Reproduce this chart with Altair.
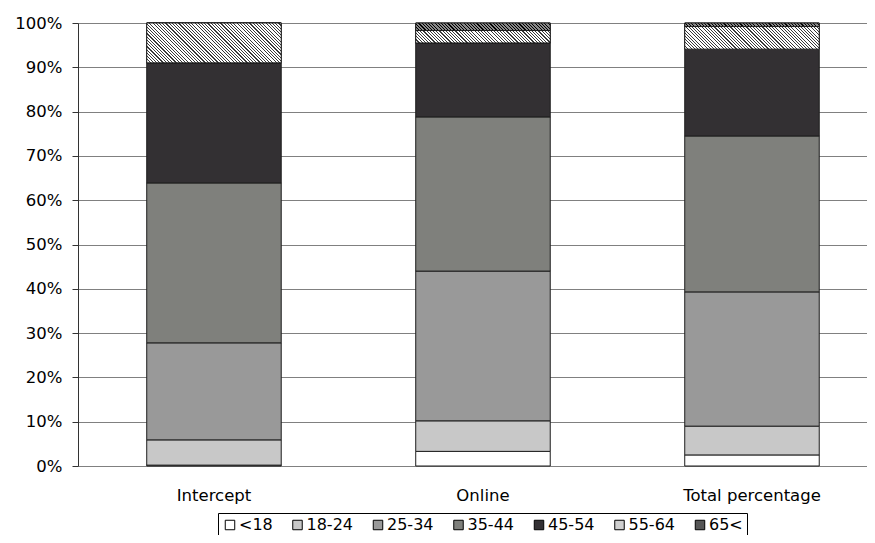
import altair as alt

groups = ["Intercept", "Online", "Total percentage"]
ages = ["<18", "18-24", "25-34", "35-44", "45-54", "55-64", "65<"]
intercept = [0.2, 5.7, 21.9, 36.1, 27.1, 9.0, 0.0]
online = [3.3, 6.9, 33.8, 34.8, 16.7, 2.8, 1.7]
total = [2.5, 6.5, 30.3, 35.2, 19.6, 5.1, 0.8]
colors = ["#ffffff", "#c8c8c8", "#999999", "#7f807c", "#333033", "#cfcfcf", "#555555"]
hatch = {"55-64": ("#ffffff", "#3a3a3a"), "65<": ("#8a8a8a", "#000000")}

W, H = 789, 443
FONT = "DejaVu Sans"
FS = 16.5
STEP = 269.0
BAR_W = 0.5 * STEP


def stripes(w, h, bg, fg, period=3.2, frac=0.35):
    span = w + h
    n = max(1, round(span / period))
    stops = []
    for k in range(n):
        a, b, c = k / n, (k + frac) / n, (k + 1) / n
        stops += [{"offset": a, "color": fg}, {"offset": b, "color": fg},
                  {"offset": b, "color": bg}, {"offset": c, "color": bg}]
    d = w * w + h * h
    du = w * span / d
    dv = -h * span / d
    return {"gradient": "linear", "x1": 0, "y1": 1, "x2": du, "y2": 1 + dv, "stops": stops}


rows = []
for g, vals in zip(groups, [intercept, online, total]):
    cum = 0.0
    for a, v in zip(ages, vals):
        row = {"group": g, "age": a, "y0": cum, "y1": cum + v}
        if a in hatch and v > 0:
            bg, fg = hatch[a]
            row["grad"] = stripes(BAR_W, v / 100 * H, bg, fg)
        cum += v
        rows.append(row)

base = alt.Chart(alt.Data(values=rows))

x = alt.X("group:N", sort=groups,
          scale=alt.Scale(paddingInner=0.5, paddingOuter=0.2165, align=0.59),
          axis=alt.Axis(title=None, labelAngle=0, ticks=False, tickSize=0, domain=False,
                        labelPadding=21, labelFont=FONT, labelFontSize=FS, labelColor="#000"))
y = alt.Y("y0:Q", scale=alt.Scale(domain=[0, 100], nice=False),
          axis=alt.Axis(title=None, values=list(range(0, 101, 10)), labelExpr="datum.value + '%'",
                        grid=True, gridColor="#808080", gridWidth=1, domainColor="#333333",
                        tickColor="#333333", tickSize=6, labelPadding=10, labelFont=FONT,
                        labelFontSize=FS, labelColor="#000"))

bars = base.mark_bar(stroke="#1e1e1e", strokeWidth=1).encode(
    x=x, y=y, y2="y1:Q",
    color=alt.Color("age:N", sort=ages, scale=alt.Scale(domain=ages, range=colors),
                    legend=alt.Legend(orient="none", legendX=140, legendY=490,
                                      direction="horizontal", title=None,
                                      strokeColor="#000000", padding=4,
                                      labelFont=FONT, labelFontSize=16, labelColor="#000",
                                      labelBaseline="middle",
                                      symbolType="square", symbolSize=90,
                                      symbolStrokeColor="#000000", symbolStrokeWidth=1,
                                      columnPadding=16.5, labelOffset=1)),
)

hatched = base.transform_filter("datum.grad != null").mark_bar(
    stroke="#1e1e1e", strokeWidth=1).encode(
    x=x, y=y, y2="y1:Q",
    fill=alt.Fill("grad:N", scale=None),
)

chart = alt.layer(bars, hatched).properties(
    width=W, height=H,
    padding={"left": 70, "top": 15, "right": 0, "bottom": 69},
    autosize=alt.AutoSizeParams(type="none"),
).configure_view(strokeWidth=0)

chart.save("out.html", embed_options={"renderer": "svg", "actions": False})
